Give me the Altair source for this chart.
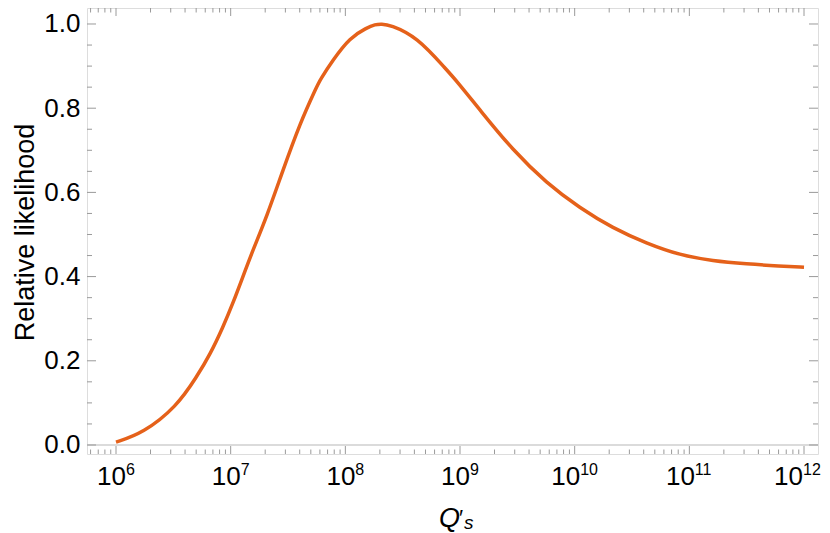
import altair as alt
import pandas as pd

# ---- data ----
q_values = [1.0e6, 1.718e6, 3.38e6, 5.06e6, 6.61e6, 8.57e6, 1.047e7, 1.279e7, 1.563e7,
            2.06e7, 2.858e7, 4.018e7, 5.62e7, 6.01e7, 7.76e7, 1.096e8, 1.535e8, 1.82e8,
            2.07e8, 2.45e8, 4.19e8, 7.64e8, 9.33e8, 1.489e9, 2.89e9, 5.69e9, 1.109e10,
            2.153e10, 4.236e10, 8.28e10, 1.603e11, 3.155e11, 6.17e11, 1.0e12]
likelihood = [0.007, 0.028, 0.091, 0.162, 0.215, 0.28, 0.337, 0.40, 0.463,
              0.542, 0.653, 0.764, 0.851, 0.867, 0.914, 0.968, 0.991, 0.999,
              1.0, 0.998, 0.97, 0.891, 0.865, 0.796, 0.70, 0.622, 0.563,
              0.515, 0.479, 0.451, 0.437, 0.43, 0.425, 0.422]

y_major = [0.0, 0.2, 0.4, 0.6, 0.8, 1.0]
y_minor = [0.05, 0.1, 0.15, 0.25, 0.3, 0.35, 0.45, 0.5, 0.55, 0.65, 0.7, 0.75,
           0.85, 0.9, 0.95]
x_exponents = [6, 7, 8, 9, 10, 11, 12]
x_major = [1e6, 1e7, 1e8, 1e9, 1e10, 1e11, 1e12]
x_minor = [m * 10.0 ** e for e in [5, 6, 7, 8, 9, 10, 11] for m in range(2, 10)]

ORANGE = "#E5611A"
FRAME = "#9a9a9a"
FONT = "Liberation Sans"

W, H = 731, 446
XDOM = [10 ** 5.747, 10 ** 12.122]
YDOM = [-0.0214, 1.038]
x_minor = [v for v in x_minor if XDOM[0] <= v <= XDOM[1]]

xs = alt.Scale(type="log", domain=XDOM, nice=False)
ys = alt.Scale(domain=YDOM, nice=False, zero=False)
y_axis = alt.Axis(values=y_major, format=".1f", title="Relative likelihood",
                  labelFont=FONT, labelFontSize=26, labelColor="black",
                  labelPadding=7, ticks=False, domain=False, grid=False,
                  titleFont=FONT, titleFontSize=27, titleFontWeight="normal",
                  titleColor="black", titleAngle=270, titleBaseline="alphabetic",
                  titleAlign="center", titleX=-54, titleY=224)

df = pd.DataFrame({"q": q_values, "lik": likelihood})
ymaj = pd.DataFrame({"v": y_major})
ymin = pd.DataFrame({"v": y_minor})
xmaj = pd.DataFrame({"v": x_major})
xmin = pd.DataFrame({"v": x_minor})
lab = pd.DataFrame({"v": x_major, "base": ["10"] * len(x_major),
                    "exp": [str(e) for e in x_exponents]})
lab1 = lab[lab["exp"].str.len() == 1]
lab2 = lab[(lab["exp"].str.len() == 2) & (lab["exp"] != "12")]
lab3 = lab[lab["exp"] == "12"]

zero_line = alt.Chart(pd.DataFrame({"v": [0.0]})).mark_rule(
    color="#cfcfcf", strokeWidth=1.3).encode(
    y=alt.Y("v:Q", scale=ys, axis=y_axis))

curve = alt.Chart(df).mark_line(color=ORANGE, strokeWidth=3.5,
                                interpolate="basis").encode(
    x=alt.X("q:Q", scale=xs, axis=None),
    y=alt.Y("lik:Q", scale=ys, axis=y_axis))


def yticks(data, length):
    left = alt.Chart(data).mark_rule(color=FRAME, strokeWidth=1).encode(
        y=alt.Y("v:Q", scale=ys, axis=y_axis), x=alt.value(0), x2=alt.value(length))
    right = alt.Chart(data).mark_rule(color=FRAME, strokeWidth=1).encode(
        y=alt.Y("v:Q", scale=ys, axis=y_axis), x=alt.value(W - length), x2=alt.value(W))
    return [left, right]


def xticks(data, length):
    bottom = alt.Chart(data).mark_rule(color=FRAME, strokeWidth=1).encode(
        x=alt.X("v:Q", scale=xs, axis=None), y=alt.value(H - length), y2=alt.value(H))
    top = alt.Chart(data).mark_rule(color=FRAME, strokeWidth=1).encode(
        x=alt.X("v:Q", scale=xs, axis=None), y=alt.value(0), y2=alt.value(length))
    return [bottom, top]


ticks = yticks(ymaj, 9) + yticks(ymin, 5) + xticks(xmaj, 8) + xticks(xmin, 4.5)


def xlabels(data, dx):
    base = alt.Chart(data).mark_text(font=FONT, fontSize=26, align="right",
                                     baseline="alphabetic", dx=dx, color="black").encode(
        x=alt.X("v:Q", scale=xs, axis=None), y=alt.value(477), text="base:N")
    sup = alt.Chart(data).mark_text(font=FONT, fontSize=16, align="left",
                                    baseline="alphabetic", dx=dx, color="black").encode(
        x=alt.X("v:Q", scale=xs, axis=None), y=alt.value(467), text="exp:N")
    return [base, sup]


labels = xlabels(lab1, 10) + xlabels(lab2, 5.5) + xlabels(lab3, -1)

title_df = pd.DataFrame({"t": ["Q"], "p": ["\u2032"], "s": ["s"]})
t_q = alt.Chart(title_df).mark_text(font=FONT, fontSize=27, fontStyle="italic",
                                    align="right", baseline="alphabetic", color="black").encode(
    x=alt.value(373), y=alt.value(519), text="t:N")
t_p = alt.Chart(title_df).mark_text(font=FONT, fontSize=22, align="left",
                                    baseline="alphabetic", color="black").encode(
    x=alt.value(372), y=alt.value(517), text="p:N")
t_s = alt.Chart(title_df).mark_text(font=FONT, fontSize=19, fontStyle="italic",
                                    align="left", baseline="alphabetic", color="black").encode(
    x=alt.value(377), y=alt.value(521), text="s:N")

chart = alt.layer(zero_line, *ticks, curve, *labels, t_q, t_p, t_s).properties(
    width=W, height=H,
    autosize=alt.AutoSizeParams(type="none"),
    padding={"left": 79, "top": 0, "right": 4, "bottom": 79},
).configure_view(stroke=FRAME, strokeWidth=1.2).configure(background="white")

chart.save("out.html", embed_options={"renderer": "svg", "actions": False})
